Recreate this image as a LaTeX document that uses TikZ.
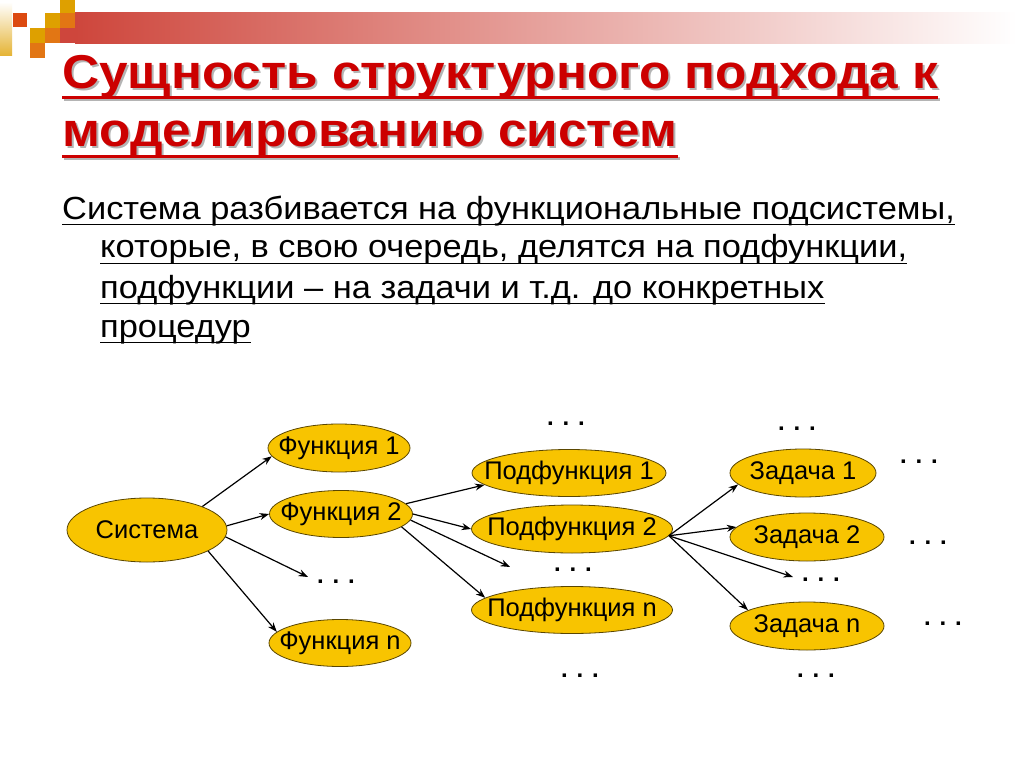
\documentclass[tikz,border=0pt]{standalone}
\usepackage{fontspec}
\setmainfont{Liberation Sans}
\usetikzlibrary{shapes.geometric,arrows.meta}
\definecolor{gold}{RGB}{248,196,0}
\definecolor{edgec}{RGB}{90,70,0}
\definecolor{titlered}{RGB}{204,0,0}
\definecolor{shadowc}{RGB}{180,180,180}
\definecolor{barred}{RGB}{206,70,60}
\definecolor{sqgold}{RGB}{222,160,0}
\definecolor{sqorange}{RGB}{226,118,20}
\definecolor{sqred}{RGB}{220,74,16}
\newcommand{\ttltext}[1]{\scalebox{1.08}[1]{#1}}
\newcommand{\bodtext}[1]{\scalebox{1.075}[1]{#1}}
\begin{document}
\begin{tikzpicture}[x=1pt,y=-1pt,
  ell/.style={ellipse,draw=edgec,line width=0.8pt,fill=gold,inner xsep=-40pt,inner ysep=-12pt,font=\fontsize{25.5}{28}\selectfont},
  arr/.style={-{Stealth[length=9.5pt,width=7pt]},line width=1.2pt},
  dts/.style={font=\fontsize{24}{26}\bfseries\selectfont,inner sep=0pt},
  ttl/.style={anchor=base west,inner sep=0pt,font=\fontsize{47.5}{56}\bfseries\selectfont},
  bod/.style={anchor=base west,inner sep=0pt,font=\fontsize{32}{36}\selectfont},
  tul/.style={line width=3pt},
  bul/.style={line width=1.8pt}]
\useasboundingbox (0,0) rectangle (1024,767);
\fill[white] (0,0) rectangle (1024,767);
% decoration
\shade[top color=white,bottom color=sqgold!80!white] (0,2) rectangle (12,56);
\shade[left color=barred,right color=white] (75,13) rectangle (1017,44);
\fill[sqred] (13,13) rectangle (27,27);
\fill[sqgold] (60,0) rectangle (75,13);
\fill[sqgold] (45,13) rectangle (60,28);
\fill[sqorange] (60,13) rectangle (75,28);
\fill[sqgold] (30,28) rectangle (45,43);
\fill[sqorange] (45,28) rectangle (60,43);
\fill[barred] (60,28) rectangle (75,43);
\fill[sqorange] (30,43) rectangle (45,58);
% title shadow
\node[ttl,text=shadowc] (t1s) at (64,91) {\ttltext{Сущность структурного подхода к}};
\node[ttl,text=shadowc] (t2s) at (64,149) {\ttltext{моделированию систем}};
\draw[shadowc,tul] ([yshift=-9pt]t1s.base west) -- ([yshift=-9pt]t1s.base east);
\draw[shadowc,tul] ([yshift=-10pt]t2s.base west) -- ([yshift=-10pt]t2s.base east);
% title
\node[ttl,text=titlered] (t1) at (62,89) {\ttltext{Сущность структурного подхода к}};
\node[ttl,text=titlered] (t2) at (62,147) {\ttltext{моделированию систем}};
\draw[titlered,tul] ([yshift=-9pt]t1.base west) -- ([yshift=-9pt]t1.base east);
\draw[titlered,tul] ([yshift=-10pt]t2.base west) -- ([yshift=-10pt]t2.base east);
% body
\node[bod] (b1) at (62,219) {\bodtext{Система разбивается на функциональные подсистемы,}};
\node[bod] (b2) at (100,258) {\bodtext{которые, в свою очередь, делятся на подфункции,}};
\node[bod] (b3) at (100,298) {\bodtext{подфункции – на задачи и т.д. до конкретных}};
\node[bod] (b4) at (100,337) {\bodtext{процедур}};
\foreach \b in {b1,b2,b3,b4}
  \draw[bul] ([yshift=-5.5pt]\b.base west) -- ([yshift=-5.5pt]\b.base east);
% diagram nodes
\node[ell,minimum width=160pt,minimum height=64pt] (s) at (147,530) {Система};
\node[ell,minimum width=142pt,minimum height=48pt] (f1) at (339,448) {Функция 1};
\node[ell,minimum width=143pt,minimum height=47pt] (f2) at (341,514) {Функция 2};
\node[ell,minimum width=142pt,minimum height=47pt] (fn) at (340,643) {Функция n};
\node[ell,minimum width=194pt,minimum height=47pt] (p1) at (569,473) {Подфункция 1};
\node[ell,minimum width=201pt,minimum height=48pt] (p2) at (572,529) {Подфункция 2};
\node[ell,minimum width=201pt,minimum height=47pt] (pn) at (572,610) {Подфункция n};
\node[ell,minimum width=146pt,minimum height=48pt] (z1) at (803,473) {Задача 1};
\node[ell,minimum width=154pt,minimum height=48pt] (z2) at (807,537) {Задача 2};
\node[ell,minimum width=154pt,minimum height=48pt] (zn) at (807,626) {Задача n};
% dots
\node[dts] (d0) at (566,424) {. . .};
\node[dts] (d1) at (336,582) {. . .};
\node[dts] (d2) at (573,570) {. . .};
\node[dts] (d4) at (580,676) {. . .};
\node[dts] (e0) at (797,429) {. . .};
\node[dts] (e1) at (919,462) {. . .};
\node[dts] (e2) at (928,543) {. . .};
\node[dts] (e3) at (821,580) {. . .};
\node[dts] (e4) at (943,624) {. . .};
\node[dts] (e5) at (816,676) {. . .};
\coordinate (c1) at (308,577);
\coordinate (c2) at (510,567);
\coordinate (c3) at (793,577);
% arrows
\draw[arr] (s.23) -- (f1.187);
\draw[arr] (s.3) -- (f2.180);
\draw[arr] (s.-5) -- (c1);
\draw[arr] (s.-19) -- (fn.170);
\draw[arr] (f2.9) -- (p1.188);
\draw[arr] (f2.0) -- (p2.180);
\draw[arr] (f2.-5) -- (c2);
\draw[arr] (f2.-12) -- (pn.172);
\draw[arr] (p2.-4) -- (z1.190);
\draw[arr] (p2.-4) -- (z2.172);
\draw[arr] (p2.-4) -- (c3);
\draw[arr] (p2.-4) -- (zn.165);
\end{tikzpicture}
\end{document}
